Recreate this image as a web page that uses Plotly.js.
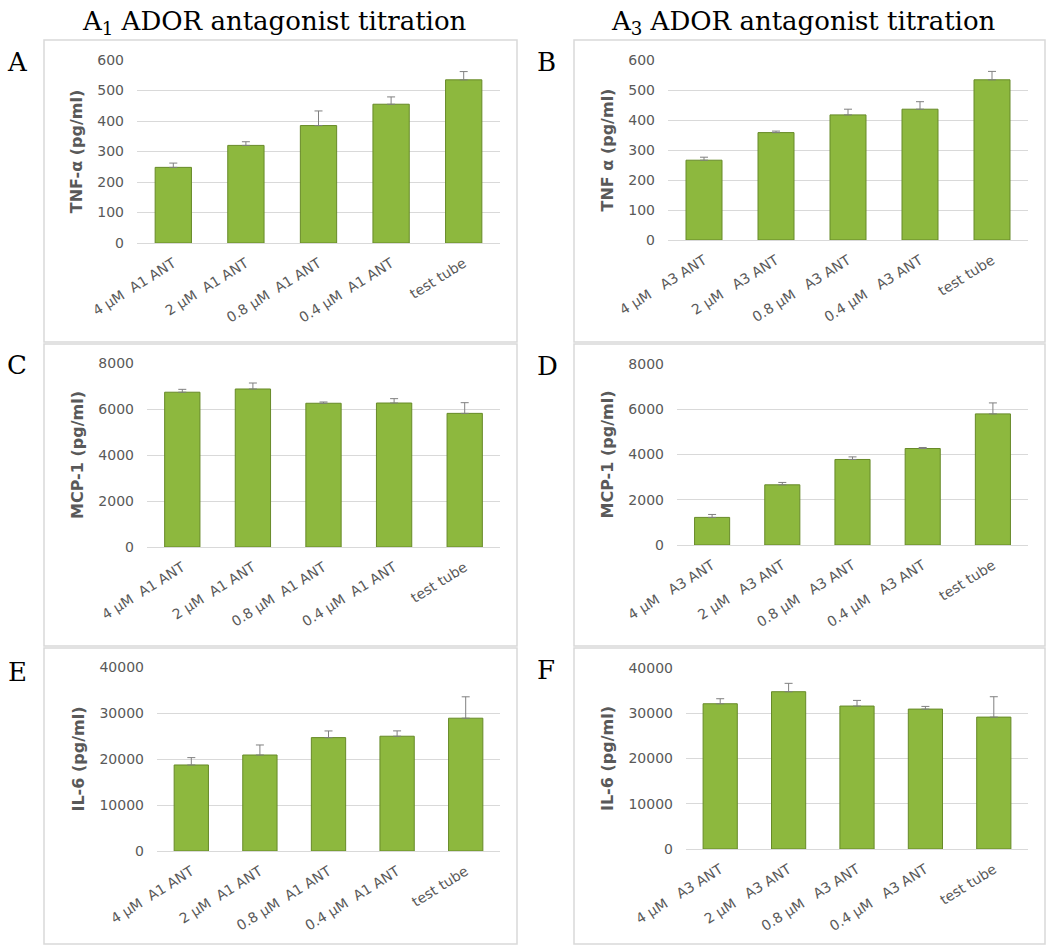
<!DOCTYPE html>
<html>
<head>
<meta charset="utf-8">
<script src="https://cdn.plot.ly/plotly-3.0.1.min.js"></script>
<style>html,body{margin:0;padding:0;background:#fff;}#chart{width:1050px;height:945px;}</style>
</head>
<body>
<div id="chart"></div>
<script>
const catsA1 = ["4\u00a0µM\u00a0\u00a0A1 ANT", "2\u00a0µM\u00a0\u00a0A1 ANT", "0.8\u00a0µM\u00a0\u00a0A1 ANT", "0.4\u00a0µM\u00a0\u00a0A1 ANT", "test tube"];
const catsA3 = ["4\u00a0µM\u00a0\u00a0\u00a0A3 ANT", "2\u00a0µM\u00a0\u00a0\u00a0A3 ANT", "0.8\u00a0µM\u00a0\u00a0\u00a0A3 ANT", "0.4\u00a0µM\u00a0\u00a0\u00a0A3 ANT", "test tube"];

const tnfA1 = [248, 320, 385, 455, 535];
const tnfA1Err = [14, 12, 48, 24, 27];
const tnfA3 = [266, 358, 417, 436, 534];
const tnfA3Err = [10, 5, 19, 25, 28];
const mcpA1 = [6730, 6870, 6250, 6260, 5810];
const mcpA1Err = [125, 260, 55, 190, 465];
const mcpA3 = [1220, 2660, 3780, 4265, 5795];
const mcpA3Err = [130, 105, 115, 45, 485];
const il6A1 = [18700, 20870, 24650, 24950, 28870];
const il6A1Err = [1600, 2180, 1450, 1160, 4650];
const il6A3 = [32100, 34760, 31590, 30920, 29150];
const il6A3Err = [1110, 1850, 1250, 590, 4500];

const colTitles = ["A<sub>1</sub> ADOR antagonist titration", "A<sub>3</sub> ADOR antagonist titration"];
const panelLetters = ["A", "B", "C", "D", "E", "F"];
const yTitles = ["TNF-α (pg/ml)", "TNF α (pg/ml)", "MCP-1 (pg/ml)", "MCP-1 (pg/ml)", "IL-6 (pg/ml)", "IL-6 (pg/ml)"];
const yMax = [600, 600, 8000, 8000, 40000, 40000];
const yDtick = [100, 100, 2000, 2000, 10000, 10000];

const W = 1050, H = 945;
// plot areas in pixels [x0, x1, y0(top), y1(bottom)]
const areas = [
  [137, 500, 60, 243],
  [668, 1028, 60, 240],
  [147, 500, 363, 547],
  [677, 1028, 364, 545],
  [157, 500, 667, 851],
  [686, 1028, 668, 849]
];
// panel frames
const frames = [
  [44, 517, 40, 342], [574, 1045, 40, 342],
  [44, 517, 344, 646], [574, 1045, 344, 646],
  [44, 517, 648, 944], [574, 1045, 648, 944]
];
const letterPos = [[17, 62], [546, 62], [17, 365], [547, 366], [17, 672], [546, 670]];

const series = [
  [catsA1, tnfA1, tnfA1Err], [catsA3, tnfA3, tnfA3Err],
  [catsA1, mcpA1, mcpA1Err], [catsA3, mcpA3, mcpA3Err],
  [catsA1, il6A1, il6A1Err], [catsA3, il6A3, il6A3Err]
];

const tickFont = {family: "DejaVu Sans", size: 14, color: "#595959"};
const data = [];
const layout = {
  width: W, height: H,
  margin: {l: 0, r: 0, t: 0, b: 0},
  paper_bgcolor: "#ffffff", plot_bgcolor: "#ffffff",
  showlegend: false, bargap: 0.5,
  shapes: [], annotations: []
};

series.forEach((s, i) => {
  const n = i === 0 ? "" : String(i + 1);
  data.push({
    type: "bar", x: s[0], y: s[1],
    xaxis: "x" + n, yaxis: "y" + n,
    marker: {color: "#8db83e", line: {color: "#678a28", width: 1}},
    error_y: {type: "data", symmetric: false, array: s[2], arrayminus: s[2].map(() => 0),
              color: "#808080", thickness: 1, width: 4},
    hoverinfo: "x+y"
  });
  const a = areas[i];
  layout["xaxis" + n] = {
    domain: [a[0] / W, a[1] / W], anchor: "y" + n,
    tickangle: -32, tickfont: tickFont, ticks: "", showgrid: false,
    showline: true, linecolor: "#d9d9d9", linewidth: 1,
    ticklabelstandoff: 6, fixedrange: true
  };
  layout["yaxis" + n] = {
    domain: [1 - a[3] / H, 1 - a[2] / H], anchor: "x" + n,
    range: [0, yMax[i]], dtick: yDtick[i], tickformat: "d", tickfont: tickFont, ticks: "",
    showgrid: true, gridcolor: "#d9d9d9", gridwidth: 1, zeroline: false,
    showline: false, ticklabelstandoff: 12, fixedrange: true,
    title: {text: yTitles[i], standoff: 10,
            font: {family: "DejaVu Sans", size: 16, color: "#595959", weight: "bold"}}
  };
  const f = frames[i];
  layout.shapes.push({type: "rect", xref: "paper", yref: "paper",
    x0: f[0] / W, x1: f[1] / W, y0: 1 - f[3] / H, y1: 1 - f[2] / H,
    line: {color: "#d9d9d9", width: 1.5}, fillcolor: "rgba(0,0,0,0)", layer: "below"});
  layout.annotations.push({text: panelLetters[i], xref: "paper", yref: "paper",
    x: letterPos[i][0] / W, y: 1 - letterPos[i][1] / H, xanchor: "center", yanchor: "middle",
    showarrow: false, font: {family: "DejaVu Serif", size: 26, color: "#000000"}});
});

layout.annotations.push({text: colTitles[0], xref: "paper", yref: "paper",
  x: 274 / W, y: 1 - 23 / H, xanchor: "center", yanchor: "middle", showarrow: false,
  font: {family: "DejaVu Serif", size: 26, color: "#000000"}});
layout.annotations.push({text: colTitles[1], xref: "paper", yref: "paper",
  x: 803 / W, y: 1 - 23 / H, xanchor: "center", yanchor: "middle", showarrow: false,
  font: {family: "DejaVu Serif", size: 26, color: "#000000"}});

Plotly.newPlot("chart", data, layout, {displayModeBar: false, staticPlot: true});
</script>
</body>
</html>
